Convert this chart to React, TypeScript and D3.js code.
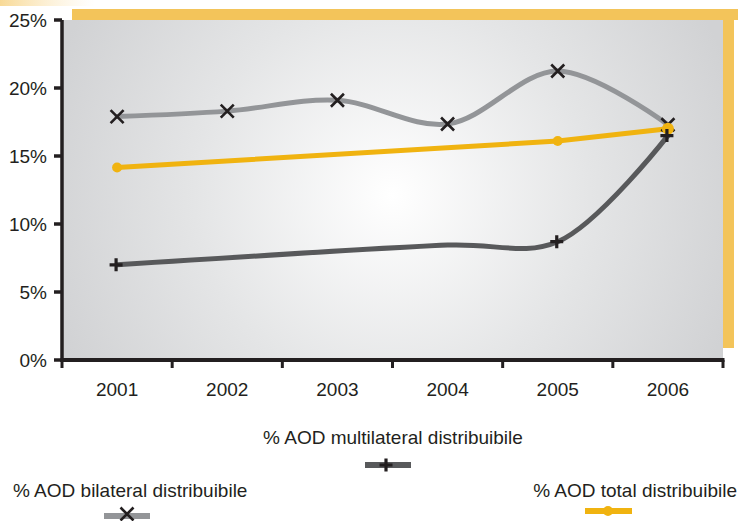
import React from "react";
import * as d3 from "d3";

const years = ["2001", "2002", "2003", "2004", "2005", "2006"];
const bilateral: (number | null)[] = [17.9, 18.3, 19.1, 17.35, 21.25, 17.3];
const multilateral: (number | null)[] = [7.0, null, null, 8.45, 8.7, 16.5];
const multilateralMarked = [true, false, false, false, true, true];
const total: (number | null)[] = [14.15, null, null, null, 16.1, 17.0];
const yTicks = [0, 5, 10, 15, 20, 25];

const legendBilateral = "% AOD bilateral distribuibile";
const legendMultilateral = "% AOD multilateral distribuibile";
const legendTotal = "% AOD total distribuibile";

const W = 738;
const H = 521;
const left = 62;
const right = 723;
const top = 20;
const bottom = 360;

const C_BI = "#939598";
const C_MULTI = "#58595b";
const C_TOTAL = "#f0b310";
const C_FRAME = "#f3c45a";
const C_INK = "#231f20";
const FONT = "'Liberation Sans', Arial, Helvetica, sans-serif";

type Pt = { x: number; y: number; marked: boolean };

export default function App() {
  const x = d3.scaleBand<string>().domain(years).range([left, right]);
  const y = d3.scaleLinear().domain([0, 25]).range([bottom, top]);
  const cx = (yr: string) => (x(yr) as number) + x.bandwidth() / 2;

  const toPts = (vals: (number | null)[], marks?: boolean[]): Pt[] =>
    vals
      .map((v, i) => ({ v, i }))
      .filter((d) => d.v !== null)
      .map((d) => ({ x: cx(years[d.i]), y: y(d.v as number), marked: marks ? marks[d.i] : true }));

  const biPts = toPts(bilateral);
  const multiPts = toPts(multilateral, multilateralMarked);
  const totPts = toPts(total);

  const lineCR = d3.line<Pt>().x((d) => d.x).y((d) => d.y).curve(d3.curveCatmullRom.alpha(0.5));
  const lineLin = d3.line<Pt>().x((d) => d.x).y((d) => d.y);

  const xMark = (px: number, py: number, s: number, key: string) => (
    <path key={key} d={`M${px - s},${py - s}L${px + s},${py + s}M${px - s},${py + s}L${px + s},${py - s}`} stroke={C_INK} strokeWidth={2.6} fill="none" />
  );
  const plusMark = (px: number, py: number, s: number, key: string) => (
    <path key={key} d={`M${px - s},${py}L${px + s},${py}M${px},${py - s}L${px},${py + s}`} stroke={C_INK} strokeWidth={3.2} fill="none" />
  );

  const xTickPos = years.map((yr) => x(yr) as number).concat([right]);

  return (
    <svg width={W} height={H} style={{ position: "absolute", left: 0, top: 0 }} fontFamily={FONT}>
      <defs>
        <radialGradient id="bg" gradientUnits="userSpaceOnUse" cx={392} cy={195} r={360}>
          <stop offset="0" stopColor="#ffffff" />
          <stop offset="0.55" stopColor="#e4e5e6" />
          <stop offset="1" stopColor="#d1d2d4" />
        </radialGradient>
        <linearGradient id="glow" x1="0" x2="1" y1="0" y2="0">
          <stop offset="0" stopColor="#f7d58a" stopOpacity="0.9" />
          <stop offset="1" stopColor="#fbe7bd" stopOpacity="0" />
        </linearGradient>
      </defs>
      <rect x={0} y={0} width={W} height={H} fill="#ffffff" />
      <rect x={0} y={0} width={95} height={6} fill="url(#glow)" />
      {/* frame */}
      <rect x={72} y={9} width={W - 72} height={11} fill={C_FRAME} />
      <rect x={right} y={9} width={11} height={348 - 9} fill={C_FRAME} />
      <rect x={left} y={top} width={right - left} height={bottom - top} fill="url(#bg)" />

      {/* axes */}
      <line x1={left} x2={left} y1={top} y2={bottom + 2} stroke={C_INK} strokeWidth={3.5} />
      <line x1={left - 1.5} x2={right + 1.5} y1={bottom} y2={bottom} stroke={C_INK} strokeWidth={4} />
      {yTicks.map((t) => (
        <g key={"yt" + t}>
          <line x1={left - 8} x2={left} y1={y(t)} y2={y(t)} stroke={C_INK} strokeWidth={3.5} />
          <text x={47} y={y(t)} dy="0.38em" textAnchor="end" fontSize={19} fill={C_INK}>
            {t}%
          </text>
        </g>
      ))}
      {xTickPos.map((p, i) => (
        <line key={"xt" + i} x1={p} x2={p} y1={bottom} y2={bottom + 8} stroke={C_INK} strokeWidth={3} />
      ))}
      {years.map((yr) => (
        <text key={"xl" + yr} x={cx(yr)} y={396} textAnchor="middle" fontSize={19} fill={C_INK}>
          {yr}
        </text>
      ))}

      {/* lines */}
      <path d={lineCR(biPts) || ""} fill="none" stroke={C_BI} strokeWidth={5} strokeLinecap="round" />
      <path d={lineCR(multiPts) || ""} fill="none" stroke={C_MULTI} strokeWidth={5} strokeLinecap="round" />
      <path d={lineLin(totPts) || ""} fill="none" stroke={C_TOTAL} strokeWidth={5} strokeLinecap="round" />

      {/* markers */}
      {biPts.map((p, i) => xMark(p.x, p.y, 6.5, "bx" + i))}
      {totPts.map((p, i) => (
        <circle key={"td" + i} cx={p.x} cy={p.y} r={i === totPts.length - 1 ? 6 : 5} fill={C_TOTAL} />
      ))}
      {multiPts.filter((p) => p.marked).map((p, i) => plusMark(p.x - 1, p.y, 6.5, "mp" + i))}

      {/* legend */}
      <text x={393} y={444} textAnchor="middle" fontSize={19} fill={C_INK}>
        {legendMultilateral}
      </text>
      <line x1={365} x2={411} y1={465} y2={465} stroke={C_MULTI} strokeWidth={6} />
      {plusMark(386, 465, 6.5, "lgm")}

      <text x={13} y={497} textAnchor="start" fontSize={19} fill={C_INK}>
        {legendBilateral}
      </text>
      <line x1={104} x2={150} y1={516} y2={516} stroke={C_BI} strokeWidth={6} />
      {xMark(127, 514, 6.5, "lgb")}

      <text x={737} y={497} textAnchor="end" fontSize={19} fill={C_INK}>
        {legendTotal}
      </text>
      <line x1={585} x2={632} y1={511} y2={511} stroke={C_TOTAL} strokeWidth={6} />
      <circle cx={608} cy={511} r={5} fill={C_TOTAL} />
    </svg>
  );
}
